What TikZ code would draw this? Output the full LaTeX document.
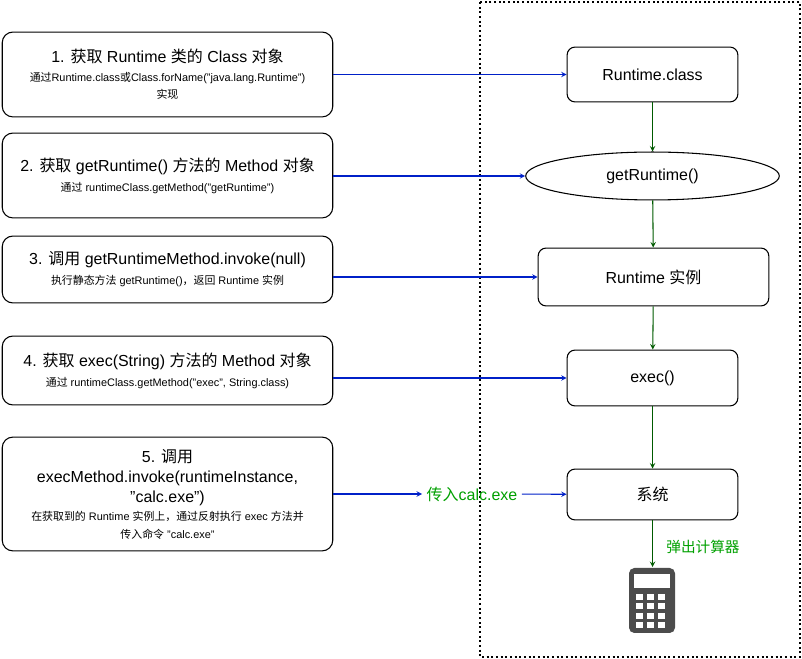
\documentclass[tikz,border=0pt]{standalone}
\usepackage{fontspec}
\setmainfont{Liberation Sans}
\newfontfamily\cjk{Noto Sans CJK SC}
\newcommand{\zh}[1]{{\cjk #1}}
\newcommand{\dq}{\symbol{34}}
\usetikzlibrary{arrows,shapes,positioning,calc}

\definecolor{linkblue}{RGB}{0,32,200}
\definecolor{flowgreen}{RGB}{0,90,0}
\definecolor{labelgreen}{RGB}{0,160,0}

\tikzset{
    stepbox/.style={draw, rounded corners=8pt, thick, align=center, minimum width=248.25pt, font=\fontsize{12pt}{15pt}\selectfont},
    part/.style={draw, rounded corners=6pt, thick, font=\fontsize{12pt}{14pt}\selectfont},
    tocall/.style={->, >=stealth, thick, linkblue},
    toflow/.style={->, >=stealth, thick, flowgreen}
}

\begin{document}
\begin{tikzpicture}[x=0.0264cm, y=-0.0264cm]
    \useasboundingbox (0,0) rectangle (802,659);
    % Steps on the left
    \node[stepbox, minimum height=63.75pt] (s1) at (167.5,74.5) {1. \zh{获取} Runtime \zh{类的} Class \zh{对象}\\[-1pt]{\fontsize{8.2pt}{12pt}\selectfont \zh{通过}Runtime.class\zh{或}Class.forName(\dq java.lang.Runtime\dq)}\\[-2pt]{\fontsize{8.2pt}{12pt}\selectfont \zh{实现}}};
    \node[stepbox, minimum height=63.75pt] (s2) at (167.5,175.5) {2. \zh{获取} getRuntime() \zh{方法的} Method \zh{对象}\\{\fontsize{8.2pt}{12pt}\selectfont \zh{通过} runtimeClass.getMethod(\dq getRuntime\dq)}};
    \node[stepbox, minimum height=50.25pt] (s3) at (167.5,269.5) {3. \zh{调用} getRuntimeMethod.invoke(null)\\{\fontsize{8.2pt}{12pt}\selectfont \zh{执行静态方法} getRuntime()\zh{，返回} Runtime \zh{实例}}};
    \node[stepbox, minimum height=51.75pt] (s4) at (167.5,370.5) {4. \zh{获取} exec(String) \zh{方法的} Method \zh{对象}\\{\fontsize{8.2pt}{12pt}\selectfont \zh{通过} runtimeClass.getMethod(\dq exec\dq, String.class)}};
    \node[stepbox, minimum height=85.5pt] (s5) at (167.5,494) {5. \zh{调用}\\execMethod.invoke(runtimeInstance,\\\dq calc.exe\dq)\\[-1pt]{\fontsize{8.2pt}{11pt}\selectfont \zh{在获取到的} Runtime \zh{实例上，通过反射执行} exec \zh{方法并}}\\[-2pt]{\fontsize{8.2pt}{11pt}\selectfont \zh{传入命令} \dq calc.exe\dq}};

    % JVM side
    \draw[dotted, line width=1.5pt] (480,2) rectangle (800,657);
    \node[part, minimum width=128.25pt, minimum height=41.25pt] (cls) at (652.5,74.5) {Runtime.class};
    \node[part, ellipse, minimum width=190.5pt, minimum height=36pt] (getrt) at (652.5,176) {getRuntime()};
    \node[part, minimum width=173.25pt, minimum height=43.5pt] (inst) at (653.5,277) {Runtime \zh{实例}};
    \node[part, minimum width=128.25pt, minimum height=42pt] (exec) at (652.5,378) {exec()};
    \node[part, minimum width=128.25pt, minimum height=38.25pt] (sys) at (652.5,494.5) {\zh{系统}};
    \node[text=labelgreen, font=\fontsize{12pt}{14pt}\selectfont] (pass) at (472,494) {\zh{传入}calc.exe};
    \node[text=labelgreen, font=\fontsize{11pt}{14pt}\selectfont] (pop) at (703,547) {\zh{弹出计算器}};

    % Calculator
    \coordinate (calctop) at (652.5,567);
    \fill[gray!60!black, rounded corners=4pt] (629,568) rectangle (675,633);
    \fill[white] (634,574) rectangle (670,588);
    \foreach \i in {0,1,2}
        \foreach \j in {0,1,2,3}
            \fill[white] ({636+\i*11},{594+\j*9.5}) rectangle ({643+\i*11},{600+\j*9.5});

    % Connectors
    \draw[tocall] (s1.east |- cls.west) -- (cls.west);
    \draw[tocall] (s2.east |- getrt.west) -- (getrt.west);
    \draw[tocall] (s3.east |- inst.west) -- (inst.west);
    \draw[tocall] (s4.east |- exec.west) -- (exec.west);
    \draw[tocall] (s5) -- (pass);
    \draw[tocall] (pass) -- (sys);
    \draw[toflow] (cls) -- (getrt);
    \draw[toflow] (getrt) -- (inst);
    \draw[toflow] (inst) -- (exec);
    \draw[toflow] (exec) -- (sys);
    \draw[toflow] (sys) -- (calctop);
\end{tikzpicture}
\end{document}
